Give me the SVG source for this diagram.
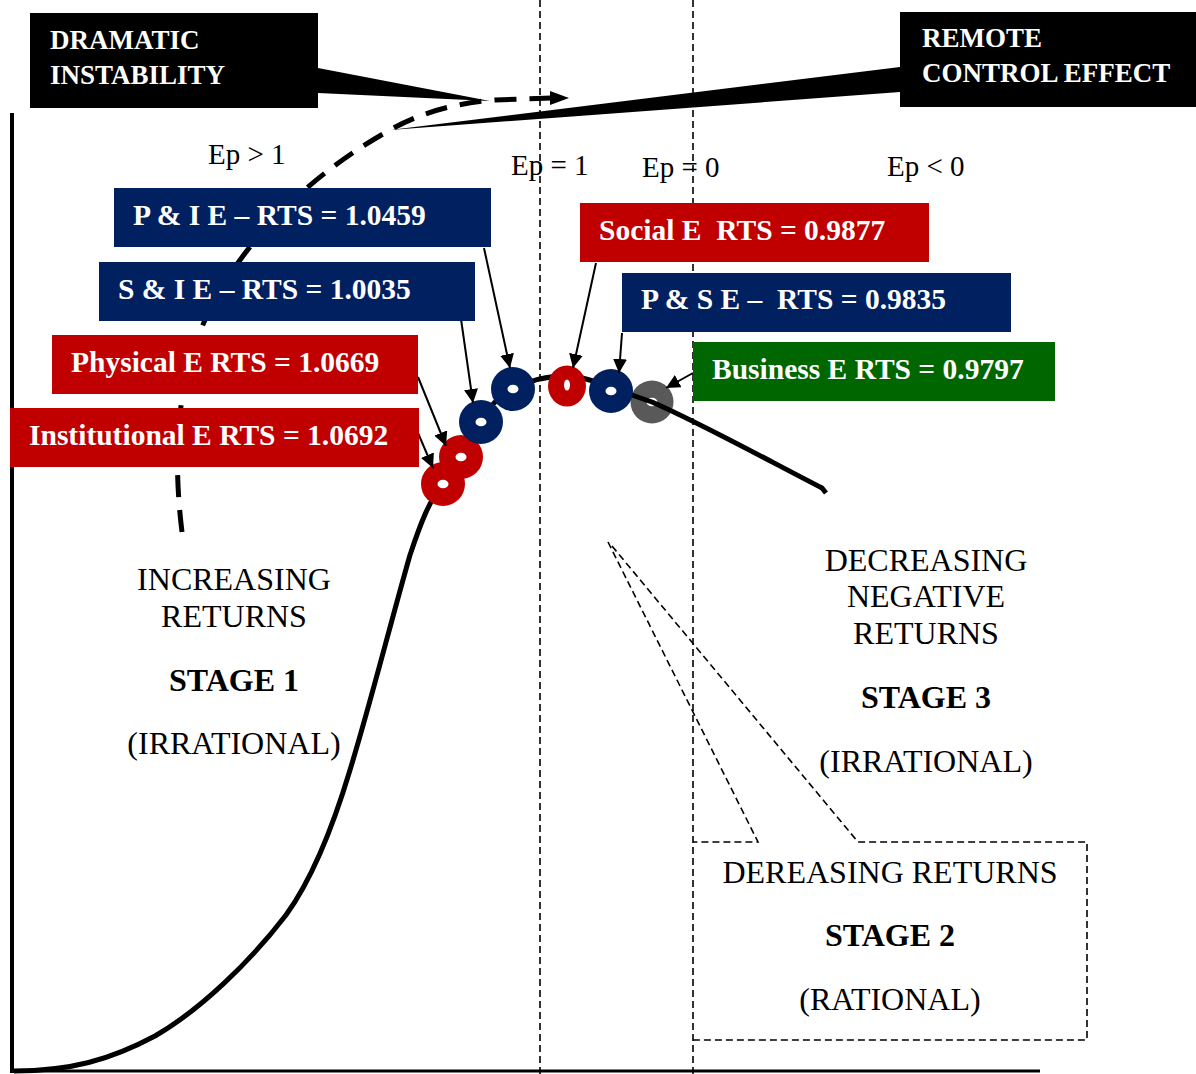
<svg xmlns="http://www.w3.org/2000/svg" width="1196" height="1074" viewBox="0 0 1196 1074">
<defs>
<style>
.serif{font-family:"Liberation Serif","Times New Roman",serif;}
.lbl{font-family:"Liberation Serif","Times New Roman",serif;font-weight:bold;font-size:29.5px;fill:#fff;white-space:pre;}
.blk{font-family:"Liberation Serif","Times New Roman",serif;font-weight:bold;font-size:27px;fill:#fff;}
.ep{font-family:"Liberation Serif","Times New Roman",serif;font-size:29px;fill:#000;}
.stg{font-family:"Liberation Serif","Times New Roman",serif;font-size:32px;fill:#000;text-anchor:middle;}
.stgb{font-family:"Liberation Serif","Times New Roman",serif;font-size:32px;font-weight:bold;fill:#000;text-anchor:middle;}
.vdash{stroke:#000;stroke-width:1.6;stroke-dasharray:7 4;fill:none;}
.thin{stroke:#000;stroke-width:2;fill:none;marker-end:url(#ah);}
.navy{fill:#002060;}
.red{fill:#C00000;}
.green{fill:#006600;}
.hole{fill:#fff;}
</style>
<marker id="ah" markerUnits="userSpaceOnUse" markerWidth="16" markerHeight="14" refX="14" refY="7" orient="auto">
<path d="M0,0 L14,7 L0,14 Z" fill="#000"/>
</marker>
</defs>
<rect width="1196" height="1074" fill="#fff"/>

<!-- axes -->
<g id="axes">
<line x1="12" y1="113" x2="12" y2="1073" stroke="#000" stroke-width="4"/>
<line x1="10" y1="1071" x2="1040" y2="1071" stroke="#000" stroke-width="3"/>
</g>

<!-- vertical dashed lines -->
<g id="dividers">
<line class="vdash" x1="540" y1="0" x2="540" y2="1074"/>
<line class="vdash" x1="693" y1="0" x2="693" y2="1074"/>
</g>

<!-- Ep labels -->
<g id="ep-labels">
<text class="ep" x="208" y="164">Ep &gt; 1</text>
<text class="ep" x="511" y="175">Ep = 1</text>
<text class="ep" x="642" y="177">Ep = 0</text>
<text class="ep" x="887" y="176">Ep &lt; 0</text>
</g>

<!-- gray dot below curve -->
<g id="dot-business">
<circle cx="652" cy="402" r="21.5" fill="#595959"/>
<ellipse class="hole" cx="652" cy="402" rx="5.5" ry="4.3"/>
</g>

<!-- main curve -->
<g id="curve">
<path d="M14,1071 C70,1071 110,1060 155,1036 C200,1010 250,962 286,915 C315,875 335,820 350,770 C370,705 390,625 410,555 C420,525 430,498 443,485 L461,458 L481,422 C490,405 500,395 513,389 C530,380 550,376 567,376 C590,377 610,388 652,402 C700,423 760,456 822,488 L826,493" fill="none" stroke="#000" stroke-width="5" stroke-linejoin="round"/>
</g>

<!-- dashed instability curve -->
<g id="instability-curve">
<path d="M182,532 C172,450 178,380 205,320 C235,252 300,180 390,130 C420,113 455,103 495,100 L552,98" fill="none" stroke="#000" stroke-width="5" stroke-dasharray="22 13"/>
<path d="M550,91 L569,98 L550,105 Z" fill="#000"/>
</g>

<!-- dots -->
<g id="dot-institutional">
<circle cx="443" cy="484" r="22" class="red"/>
<ellipse class="hole" cx="443" cy="484" rx="5.5" ry="4.3"/>
</g>
<g id="dot-physical">
<circle cx="461" cy="457" r="22" class="red"/>
<ellipse class="hole" cx="461" cy="457" rx="5.5" ry="4.3"/>
</g>
<g id="dot-si">
<circle cx="481" cy="422" r="22" class="navy"/>
<ellipse class="hole" cx="481" cy="422" rx="5.5" ry="4.3"/>
</g>
<g id="dot-pi">
<circle cx="513" cy="389" r="22" class="navy"/>
<ellipse class="hole" cx="513" cy="389" rx="5.5" ry="4.3"/>
</g>
<g id="dot-social">
<ellipse cx="567" cy="386" rx="19" ry="20.5" class="red"/>
<ellipse class="hole" cx="567" cy="385" rx="3" ry="5.5"/>
</g>
<g id="dot-ps">
<circle cx="611" cy="391" r="22" class="navy"/>
<ellipse class="hole" cx="611" cy="391" rx="5.5" ry="4.3"/>
</g>

<!-- connectors -->
<g id="connectors">
<polygon points="318,68 490,101 318,93" fill="#000"/>
<polygon points="900,67 390,130 900,92" fill="#000"/>
<line class="thin" x1="484" y1="248" x2="510" y2="368"/>
<line class="thin" x1="453" y1="263" x2="473" y2="403"/>
<line class="thin" x1="418" y1="377" x2="446" y2="446"/>
<line class="thin" x1="418" y1="433" x2="433" y2="468"/>
<line class="thin" x1="596" y1="263" x2="573" y2="368"/>
<line class="thin" x1="622" y1="333" x2="619" y2="373"/>
<line class="thin" x1="693" y1="373" x2="666" y2="388"/>
<path class="vdash" d="M608,542 L758,842 L693,842 M612,546 L858,842 L1087,842 L1087,1040 L693,1040"/>
</g>

<!-- black callouts -->
<g id="dramatic-instability">
<rect x="30" y="13" width="288" height="95" fill="#000"/>
<text class="blk" x="50" y="49">DRAMATIC</text>
<text class="blk" x="50" y="84">INSTABILITY</text>
</g>
<g id="remote-control">
<rect x="900" y="12" width="296" height="95" fill="#000"/>
<text class="blk" x="922" y="47">REMOTE</text>
<text class="blk" x="922" y="82">CONTROL EFFECT</text>
</g>

<!-- label boxes -->
<g id="label-pi">
<rect x="114" y="188" width="377" height="59" class="navy"/>
<text class="lbl" x="133" y="225">P &amp; I E – RTS = 1.0459</text>
</g>
<g id="label-si">
<rect x="99" y="262" width="376" height="59" class="navy"/>
<text class="lbl" x="118" y="299">S &amp; I E – RTS = 1.0035</text>
</g>
<g id="label-physical">
<rect x="52" y="335" width="366" height="59" class="red"/>
<text class="lbl" x="71" y="372">Physical E RTS = 1.0669</text>
</g>
<g id="label-institutional">
<rect x="10" y="408" width="409" height="59" class="red"/>
<text class="lbl" x="29" y="445">Institutional E RTS = 1.0692</text>
</g>
<g id="label-social">
<rect x="580" y="203" width="349" height="59" class="red"/>
<text class="lbl" x="599" y="240">Social E  RTS = 0.9877</text>
</g>
<g id="label-ps">
<rect x="622" y="273" width="389" height="59" class="navy"/>
<text class="lbl" x="641" y="309">P &amp; S E –  RTS = 0.9835</text>
</g>
<g id="label-business">
<rect x="693" y="342" width="362" height="59" class="green"/>
<text class="lbl" x="712" y="379">Business E RTS = 0.9797</text>
</g>

<!-- stage texts -->
<g id="stage1">
<text class="stg" x="234" y="590">INCREASING</text>
<text class="stg" x="234" y="627">RETURNS</text>
<text class="stgb" x="234" y="691">STAGE 1</text>
<text class="stg" x="234" y="754">(IRRATIONAL)</text>
</g>
<g id="stage3">
<text class="stg" x="926" y="571">DECREASING</text>
<text class="stg" x="926" y="607">NEGATIVE</text>
<text class="stg" x="926" y="644">RETURNS</text>
<text class="stgb" x="926" y="708">STAGE 3</text>
<text class="stg" x="926" y="772">(IRRATIONAL)</text>
</g>
<g id="stage2">
<text class="stg" x="890" y="883">DEREASING RETURNS</text>
<text class="stgb" x="890" y="946">STAGE 2</text>
<text class="stg" x="890" y="1010">(RATIONAL)</text>
</g>
</svg>
